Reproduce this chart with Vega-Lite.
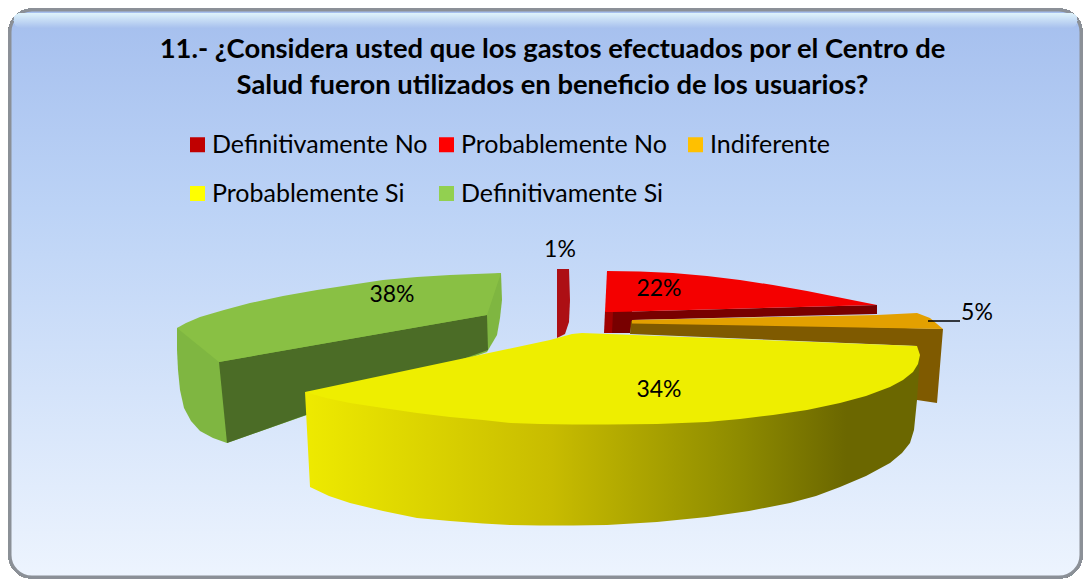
{"$schema":"https://vega.github.io/schema/vega-lite/v6.json","width":1089,"height":581,"padding":0,"autosize":{"type":"fit","contains":"padding"},"background":"#ffffff",
"title":{"text":["11.- ¿Considera usted que los gastos efectuados por el Centro de","Salud fueron utilizados en beneficio de los usuarios?"],"anchor":"middle","frame":"group","offset":-121,"dx":8,"font":"Lato","fontSize":27.4,"fontWeight":"bold","color":"#000000","lineHeight":36,"baseline":"alphabetic"},
"config":{"view":{"stroke":null},"legend":{"orient":"none","legendX":185,"legendY":132,"columns":3,"gridAlign":"all","symbolType":"square","symbolSize":225,"symbolStrokeWidth":0,"symbolOpacity":1,"labelFont":"Lato","labelFontSize":25,"labelColor":"#000000","labelLimit":240,"rowPadding":23,"columnPadding":-1,"symbolOffset":0,"labelOffset":2,"title":null}},
"datasets":{"caras":[
{"c":"gr","i":1,"x":501,"y":273},{"c":"gr","i":2,"x":502,"y":300},{"c":"gr","i":3,"x":500,"y":318},{"c":"gr","i":4,"x":497,"y":335},{"c":"gr","i":5,"x":487,"y":352},{"c":"gr","i":6,"x":227,"y":443},{"c":"gr","i":7,"x":213,"y":438},{"c":"gr","i":8,"x":200,"y":431},{"c":"gr","i":9,"x":191,"y":421},{"c":"gr","i":10,"x":184,"y":408},{"c":"gr","i":11,"x":180,"y":390},{"c":"gr","i":12,"x":178,"y":370},{"c":"gr","i":13,"x":177,"y":350},{"c":"gr","i":14,"x":177,"y":328},
{"c":"gd","i":1,"x":219,"y":362},{"c":"gd","i":2,"x":487,"y":315},{"c":"gd","i":3,"x":488,"y":350},{"c":"gd","i":4,"x":227,"y":443},
{"c":"gt","i":1,"x":501,"y":273},{"c":"gt","i":2,"x":475,"y":274},{"c":"gt","i":3,"x":450,"y":275},{"c":"gt","i":4,"x":417,"y":277},{"c":"gt","i":5,"x":383,"y":280},{"c":"gt","i":6,"x":350,"y":285},{"c":"gt","i":7,"x":317,"y":290},{"c":"gt","i":8,"x":283,"y":296},{"c":"gt","i":9,"x":250,"y":303},{"c":"gt","i":10,"x":224,"y":310},{"c":"gt","i":11,"x":200,"y":317},{"c":"gt","i":12,"x":186,"y":323},{"c":"gt","i":13,"x":177,"y":328},{"c":"gt","i":14,"x":219,"y":362},{"c":"gt","i":15,"x":487,"y":315},
{"c":"s","i":1,"x":557,"y":269},{"c":"s","i":2,"x":569,"y":269},{"c":"s","i":3,"x":570,"y":300},{"c":"s","i":4,"x":569,"y":322},{"c":"s","i":5,"x":565,"y":334},{"c":"s","i":6,"x":557,"y":338},
{"c":"rf","i":1,"x":605,"y":311},{"c":"rf","i":2,"x":632,"y":311},{"c":"rf","i":3,"x":630,"y":333},{"c":"rf","i":4,"x":604,"y":333},
{"c":"rd","i":1,"x":613,"y":312},{"c":"rd","i":2,"x":877,"y":305},{"c":"rd","i":3,"x":877,"y":314},{"c":"rd","i":4,"x":632,"y":320},{"c":"rd","i":5,"x":630,"y":333},{"c":"rd","i":6,"x":612,"y":333},
{"c":"rt","i":1,"x":607,"y":271},{"c":"rt","i":2,"x":640,"y":271.5},{"c":"rt","i":3,"x":673,"y":273},{"c":"rt","i":4,"x":707,"y":276},{"c":"rt","i":5,"x":740,"y":280},{"c":"rt","i":6,"x":773,"y":285},{"c":"rt","i":7,"x":807,"y":291},{"c":"rt","i":8,"x":842,"y":298},{"c":"rt","i":9,"x":877,"y":305},{"c":"rt","i":10,"x":613,"y":312},{"c":"rt","i":11,"x":605,"y":312},
{"c":"od","i":1,"x":631,"y":321},{"c":"od","i":2,"x":943,"y":329},{"c":"od","i":3,"x":937,"y":403},{"c":"od","i":4,"x":917,"y":400},{"c":"od","i":5,"x":917,"y":346},{"c":"od","i":6,"x":630,"y":334},
{"c":"ot","i":1,"x":632,"y":320},{"c":"ot","i":2,"x":877,"y":315},{"c":"ot","i":3,"x":917,"y":313},{"c":"ot","i":4,"x":930,"y":318},{"c":"ot","i":5,"x":943,"y":329},{"c":"ot","i":6,"x":632,"y":323.5},
{"c":"ys","i":1,"x":305,"y":392},{"c":"ys","i":2,"x":310,"y":487},{"c":"ys","i":3,"x":329,"y":496},{"c":"ys","i":4,"x":350,"y":503},{"c":"ys","i":5,"x":383,"y":511},{"c":"ys","i":6,"x":417,"y":518},{"c":"ys","i":7,"x":450,"y":521},{"c":"ys","i":8,"x":483,"y":523.5},{"c":"ys","i":9,"x":510,"y":525},{"c":"ys","i":10,"x":540,"y":525.5},{"c":"ys","i":11,"x":573,"y":525.5},{"c":"ys","i":12,"x":607,"y":525},{"c":"ys","i":13,"x":657,"y":522},{"c":"ys","i":14,"x":707,"y":517},{"c":"ys","i":15,"x":749,"y":511},{"c":"ys","i":16,"x":790,"y":503},{"c":"ys","i":17,"x":816,"y":496},{"c":"ys","i":18,"x":840,"y":487},{"c":"ys","i":19,"x":866,"y":476},{"c":"ys","i":20,"x":890,"y":463},{"c":"ys","i":21,"x":902,"y":453},{"c":"ys","i":22,"x":910,"y":443},{"c":"ys","i":23,"x":914,"y":430},{"c":"ys","i":24,"x":917,"y":400},{"c":"ys","i":25,"x":920,"y":355},{"c":"ys","i":26,"x":700,"y":380},
{"c":"yt","i":1,"x":305,"y":392},{"c":"yt","i":2,"x":550,"y":340},{"c":"yt","i":3,"x":572,"y":334},{"c":"yt","i":4,"x":582,"y":333},{"c":"yt","i":5,"x":917,"y":346},{"c":"yt","i":6,"x":920,"y":355},{"c":"yt","i":7,"x":918,"y":364},{"c":"yt","i":8,"x":913,"y":372},{"c":"yt","i":9,"x":903,"y":380},{"c":"yt","i":10,"x":890,"y":387},{"c":"yt","i":11,"x":866,"y":396},{"c":"yt","i":12,"x":840,"y":403},{"c":"yt","i":13,"x":807,"y":410},{"c":"yt","i":14,"x":773,"y":415},{"c":"yt","i":15,"x":740,"y":419},{"c":"yt","i":16,"x":707,"y":422},{"c":"yt","i":17,"x":657,"y":424},{"c":"yt","i":18,"x":607,"y":424.5},{"c":"yt","i":19,"x":573,"y":424.5},{"c":"yt","i":20,"x":540,"y":424},{"c":"yt","i":21,"x":511,"y":423},{"c":"yt","i":22,"x":483,"y":420},{"c":"yt","i":23,"x":450,"y":417},{"c":"yt","i":24,"x":417,"y":413},{"c":"yt","i":25,"x":383,"y":408},{"c":"yt","i":26,"x":350,"y":403},{"c":"yt","i":27,"x":326,"y":398},
{"c":"l","i":1,"x":928,"y":321},{"c":"l","i":2,"x":960,"y":321}
],
"respuestas":[
{"respuesta":"Definitivamente  No","pct":"1%","x":560,"y":250},
{"respuesta":"Probablemente No","pct":"22%","x":659,"y":289},
{"respuesta":"Indiferente","pct":"5%","x":977,"y":313},
{"respuesta":"Probablemente Si","pct":"34%","x":659,"y":390},
{"respuesta":"Definitivamente Si","pct":"38%","x":392,"y":295}
]},
"data":{"name":"caras"},
"encoding":{"x":{"field":"x","type":"quantitative","scale":{"domain":[0,1089],"nice":false,"zero":false},"axis":null},"y":{"field":"y","type":"quantitative","scale":{"domain":[0,581],"reverse":true,"nice":false,"zero":false},"axis":null},"order":{"field":"i","type":"quantitative"}},
"layer":[
{"mark":{"type":"rect","cornerRadius":22,"stroke":"#8b9097","strokeWidth":3,"fill":{"gradient":"linear","x1":0,"y1":0,"x2":0,"y2":1,"stops":[{"offset":0,"color":"#a5bfee"},{"offset":0.35,"color":"#bcd3f6"},{"offset":1,"color":"#edf4fe"}]}},"encoding":{"x":{"datum":10},"x2":{"datum":1081},"y":{"datum":10},"y2":{"datum":577},"order":{"value":null}}},
{"mark":{"type":"rect","cornerRadius":14,"fill":{"gradient":"linear","x1":0,"y1":0,"x2":0,"y2":1,"stops":[{"offset":0,"color":"#dff3fb"},{"offset":1,"color":"#a8c1ee"}]}},"encoding":{"x":{"datum":14},"x2":{"datum":1077},"y":{"datum":13},"y2":{"datum":28},"order":{"value":null}}},
{"transform":[{"filter":"datum.c==='gr'"}],"mark":{"type":"line","fill":"#7fb641","stroke":null}},
{"transform":[{"filter":"datum.c==='gd'"}],"mark":{"type":"line","fill":"#4b6c26","stroke":null}},
{"transform":[{"filter":"datum.c==='gt'"}],"mark":{"type":"line","fill":"#89c044","stroke":null}},
{"transform":[{"filter":"datum.c==='s'"}],"mark":{"type":"line","fill":"#ad0f14","stroke":null}},
{"transform":[{"filter":"datum.c==='rf'"}],"mark":{"type":"line","fill":"#a00000","stroke":null}},
{"transform":[{"filter":"datum.c==='rd'"}],"mark":{"type":"line","fill":"#780000","stroke":null}},
{"transform":[{"filter":"datum.c==='rt'"}],"mark":{"type":"line","fill":"#f40000","stroke":null}},
{"transform":[{"filter":"datum.c==='od'"}],"mark":{"type":"line","fill":"#7f5a00","stroke":null}},
{"transform":[{"filter":"datum.c==='ot'"}],"mark":{"type":"line","fill":"#e3a000","stroke":null}},
{"transform":[{"filter":"datum.c==='ys'"}],"mark":{"type":"line","stroke":null,"fill":{"gradient":"linear","x1":0,"y1":0,"x2":1,"y2":0,"stops":[{"offset":0,"color":"#eeea00"},{"offset":0.4,"color":"#c8bc00"},{"offset":0.7,"color":"#8f8c00"},{"offset":0.88,"color":"#6b6700"},{"offset":1,"color":"#6b6700"}]}}},
{"transform":[{"filter":"datum.c==='yt'"}],"mark":{"type":"line","fill":"#eeee00","stroke":null}},
{"transform":[{"filter":"datum.c==='l'"}],"mark":{"type":"line","stroke":"#000000","strokeWidth":1.5}},
{"data":{"name":"respuestas"},"mark":{"type":"text","font":"Lato","fontSize":23,"color":"#000000","align":"center","baseline":"middle"},"encoding":{"text":{"field":"pct"},"order":{"value":null}}},
{"data":{"name":"respuestas"},"mark":{"type":"point","filled":true,"size":0,"opacity":0},"encoding":{"order":{"value":null},"color":{"field":"respuesta","type":"nominal","sort":null,"scale":{"domain":["Definitivamente  No","Probablemente Si","Probablemente No","Definitivamente Si","Indiferente"],"range":["#c00000","#ffff00","#ff0000","#92d050","#ffc000"]}}}}
]}
